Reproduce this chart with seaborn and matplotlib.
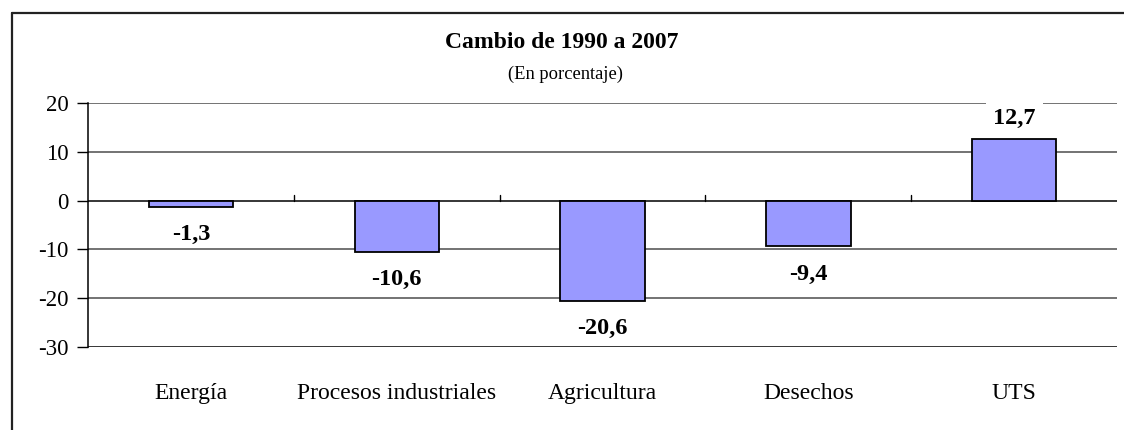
import matplotlib
matplotlib.use("Agg")
import matplotlib.pyplot as plt
from matplotlib.lines import Line2D
import seaborn as sns
import pandas as pd

categorias = ["Energía", "Procesos industriales", "Agricultura", "Desechos", "UTS"]
cambios = [-1.3, -10.6, -20.6, -9.4, 12.7]
yticks = [-30, -20, -10, 0, 10, 20]

sns.set_style("white")
plt.rcParams["font.family"] = ["Liberation Serif", "DejaVu Serif"]
plt.rcParams["text.color"] = "black"
plt.rcParams["xtick.color"] = "black"
plt.rcParams["ytick.color"] = "black"

df = pd.DataFrame({"categoria": categorias, "cambio": cambios})

fig = plt.figure(figsize=(11.24, 4.30), dpi=100)
ax = fig.add_axes([0.0783, 0.193, 0.9155, 0.5675])

# gridlines first so bars cover them
for t in yticks:
    ax.axhline(t, color="#4d4d4d" if t not in (0, -30) else "black", lw=1.1, zorder=0)

sns.barplot(data=df, x="categoria", y="cambio", color="#9999FF", saturation=1,
            width=0.41, edgecolor="black", linewidth=1.3, ax=ax, zorder=2)

ax.set_ylim(-30, 20)
ax.set_xlim(-0.5, len(categorias) - 0.5)
ax.set_yticks(yticks)
ax.set_yticklabels([str(t) for t in yticks], fontsize=16.5)
ax.tick_params(axis="y", length=8, width=1, color="black", pad=6, left=True)
ax.set_xticks(range(len(categorias)))
ax.set_xticklabels(categorias, fontsize=17)
ax.tick_params(axis="x", length=0, pad=26)
ax.set_xlabel("")
ax.set_ylabel("")

for s in ["top", "right", "bottom"]:
    ax.spines[s].set_visible(False)
ax.spines["left"].set_color("black")
ax.spines["left"].set_linewidth(1.1)

# small tick marks on the zero line between categories
for b in range(1, len(categorias)):
    ax.plot([b - 0.5, b - 0.5], [0, 1.2], color="black", lw=1, zorder=1)

for i, v in enumerate(cambios):
    off = 10.6 if v > 0 else -23.8
    pad = 0.3 if v > 0 else 0.1
    ax.annotate(f"{v:.1f}".replace(".", ","), xy=(i, v), xytext=(0, off),
                textcoords="offset points", ha="center", va="baseline",
                fontsize=17.5, fontweight="bold", zorder=3,
                bbox=dict(boxstyle=f"square,pad={pad}", fc="white", ec="none"))

fig.text(0.5, 0.9, "Cambio de 1990 a 2007", ha="center", va="center",
         fontsize=17, fontweight="bold")
fig.text(0.503, 0.826, "(En porcentaje)", ha="center", va="center", fontsize=13.3)

# outer chart frame (top and left edges visible)
fig.add_artist(Line2D([0.0107, 1.0], [0.9698, 0.9698], color="#222222", lw=1.6))
fig.add_artist(Line2D([0.0107, 0.0107], [0.0, 0.9698], color="#222222", lw=1.6))

fig.savefig("out.png", dpi=100)
